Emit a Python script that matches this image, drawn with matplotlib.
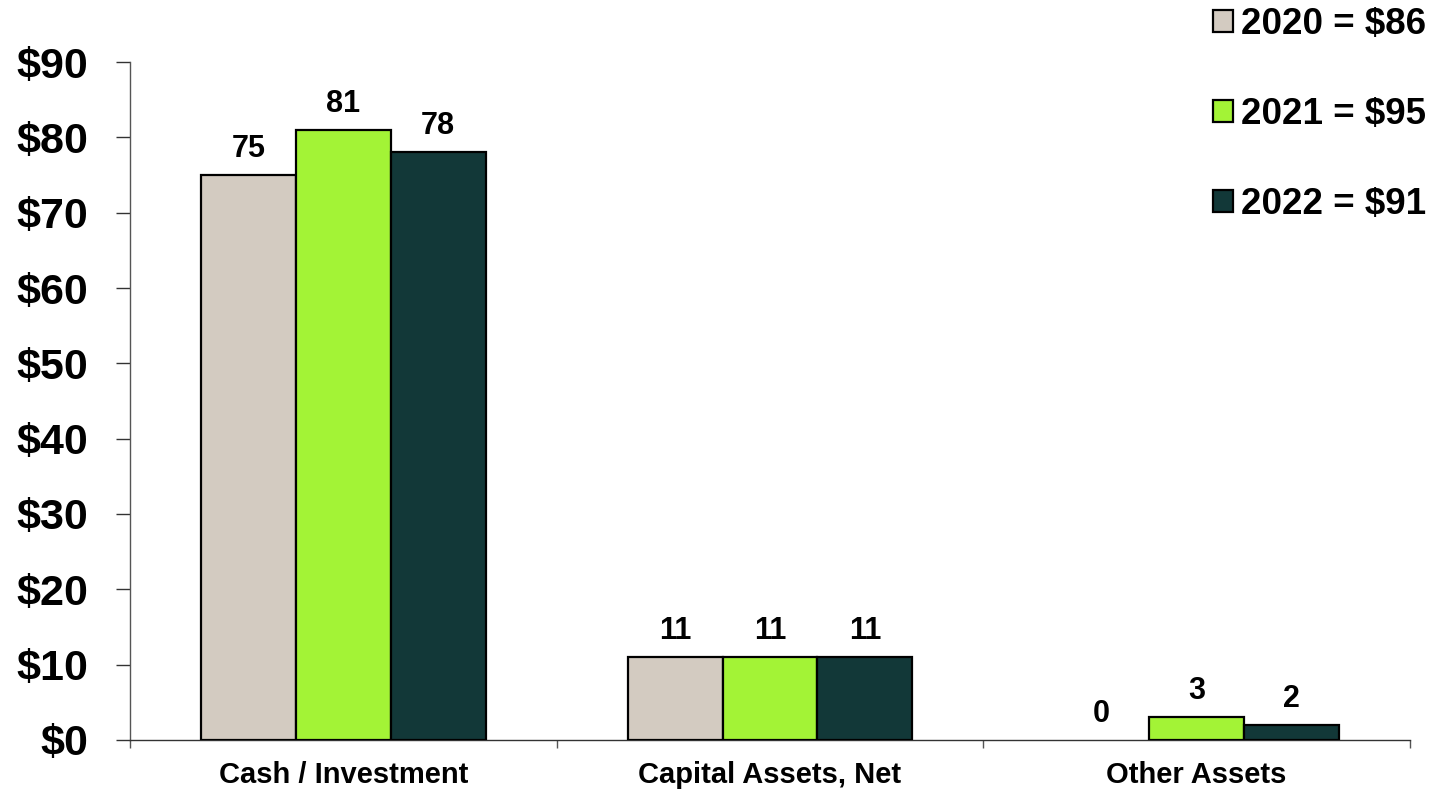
import matplotlib
matplotlib.use("Agg")
import matplotlib.pyplot as plt
import numpy as np

# balance sheet assets by category, $ millions
categories = ["Cash / Investment", "Capital Assets, Net", "Other Assets"]
years = ["2020", "2021", "2022"]
vals_2020 = [75, 11, 0]
vals_2021 = [81, 11, 3]
vals_2022 = [78, 11, 2]
colors = ["#D3CBC1", "#A3F336", "#123838"]
yticks = [0, 10, 20, 30, 40, 50, 60, 70, 80, 90]

plt.rcParams["font.family"] = ["Liberation Sans", "DejaVu Sans"]
plt.rcParams["font.weight"] = "bold"

fig = plt.figure(figsize=(14.35, 7.91), dpi=100)
ax = fig.add_axes([130 / 1435, 51 / 791, 1280 / 1435, 678 / 791])

x = np.arange(len(categories))
w = 0.2226
series = [vals_2020, vals_2021, vals_2022]
handles = []
for i, (yr, vals, c) in enumerate(zip(years, series, colors)):
    pos = x + (i - 1) * w
    b = ax.bar(pos, vals, w, color=c, edgecolor="black", linewidth=1.6,
               label=f"{yr} = ${sum(vals)}", zorder=3)
    # no outline for empty bars
    for p, v in zip(b.patches, vals):
        if v == 0:
            p.set_linewidth(0)
    handles.append(b)
    for px, v in zip(pos, vals):
        ax.annotate(str(v), (px, v), xytext=(0, 8), textcoords="offset points",
                    ha="center", va="bottom", fontsize=22, fontweight="bold")

ax.set_xlim(-0.5, 2.5)
ax.set_ylim(0, 90)
ax.set_yticks(yticks)
ax.set_yticklabels([f"${t}" for t in yticks], fontsize=31, fontweight="bold")
ax.set_xticks(x)
ax.set_xticklabels(categories, fontsize=21, fontweight="bold")
ax.set_xticks([-0.5, 0.5, 1.5, 2.5], minor=True)
ax.tick_params(axis="x", which="major", length=0, pad=15)
ax.tick_params(axis="x", which="minor", length=6, width=1, color="#555555", direction="out")
ax.tick_params(axis="y", length=10, width=1, color="#333333", pad=20)

for s in ["top", "right"]:
    ax.spines[s].set_visible(False)
ax.spines["left"].set_color("#555555")
ax.spines["bottom"].set_color("#333333")
ax.spines["left"].set_linewidth(1)
ax.spines["bottom"].set_linewidth(1)

leg = fig.legend(handles=handles, loc="upper right",
                 bbox_to_anchor=(1426 / 1435, 1 - 7 / 791),
                 frameon=False, prop={"weight": "bold", "size": 26.5},
                 borderpad=0, borderaxespad=0,
                 handlelength=0.54, handleheight=0.54, handletextpad=0.22,
                 labelspacing=1.5)

fig.savefig("out.png", dpi=100)
